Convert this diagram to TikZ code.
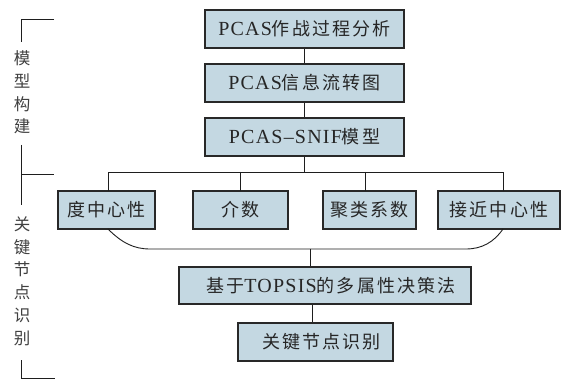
\documentclass[tikz,border=0pt]{standalone}
\usepackage{fontspec}
\setmainfont{Liberation Serif}[LetterSpace=6]
\newfontfamily\cjk{Noto Sans CJK SC}[LetterSpace=12]
\newfontfamily\cjkside{Noto Sans CJK SC}
\newcommand\zh[1]{{\cjk\fontsize{18}{20}\selectfont #1}}
\definecolor{boxfill}{RGB}{196,216,226}
\definecolor{boxline}{RGB}{40,40,40}
\definecolor{conline}{RGB}{30,30,30}
\begin{document}
\begin{tikzpicture}[x=1pt,y=-1pt,
  box/.style={draw=boxline,fill=boxfill,line width=1.4pt,inner sep=0pt,
    minimum height=38pt,font=\fontsize{20}{22}\selectfont,text=black!85},
  con/.style={draw=conline,line width=0.9pt},
  side/.style={align=center,inner sep=0pt,font=\cjkside\fontsize{16.5}{22.8}\selectfont,text=black!75}]
\useasboundingbox (0,0) rectangle (573,379);
\fill[white] (0,0) rectangle (573,379);
% top chain
\node[box,minimum width=199pt] (b1) at (304.5,29) {PCAS\zh{作战过程分析}};
\node[box,minimum width=199pt] (b2) at (304.5,83) {PCAS\zh{信息流转图}};
\node[box,minimum width=199pt] (b3) at (304.5,137) {PCAS–SNIF\zh{模型}};
% indicator row
\node[box,minimum width=97pt] (d1) at (106.5,210) {\zh{度中心性}};
\node[box,minimum width=95pt] (d2) at (240.5,210) {\zh{介数}};
\node[box,minimum width=93pt] (d3) at (369.5,210) {\zh{聚类系数}};
\node[box,minimum width=122pt] (d4) at (499,210) {\zh{接近中心性}};
% bottom
\node[box,minimum width=292pt,minimum height=37pt] (c) at (325,285.5) {\hspace{12pt}\zh{基于}TOPSIS\zh{的多属性决策法}};
\node[box,minimum width=155pt] (e) at (315.5,342) {\hspace{12pt}\zh{关键节点识别}};
% connectors
\draw[con] (b1.south) -- (b2.north);
\draw[con] (b2.south) -- (b3.north);
\coordinate (hl) at (108,172);
\coordinate (hr) at (503,172);
\draw[con] (b3.south) -- (b3.south |- hl);
\draw[con] (108,191) -- (hl) -- (hr) -- (503,191);
\draw[con] (240,172) -- (240,191);
\draw[con] (365,172) -- (365,191);
\coordinate (cl) at (108,229);
\coordinate (cr) at (503,229);
\draw[con] (cl) .. controls (122,243) and (134,249) .. (150,249) -- (466,249) .. controls (482,249) and (494,242) .. (cr);
\coordinate (m) at (310,249);
\draw[con] (m) -- (m |- c.north);
\draw[con] (c.south -| 312,0) -- (e.north -| 312,0);
% side bracket
\draw[con] (54,19) -- (21,19) -- (21,42);
\draw[con] (21,145) -- (21,205);
\draw[con] (21,174) -- (54,174);
\draw[con] (21,360) -- (21,378) -- (55,378);
\node[side] (s1) at (22,92.5) {模\\型\\构\\建};
\node[side] (s2) at (22,281) {关\\键\\节\\点\\识\\别};
\end{tikzpicture}
\end{document}
